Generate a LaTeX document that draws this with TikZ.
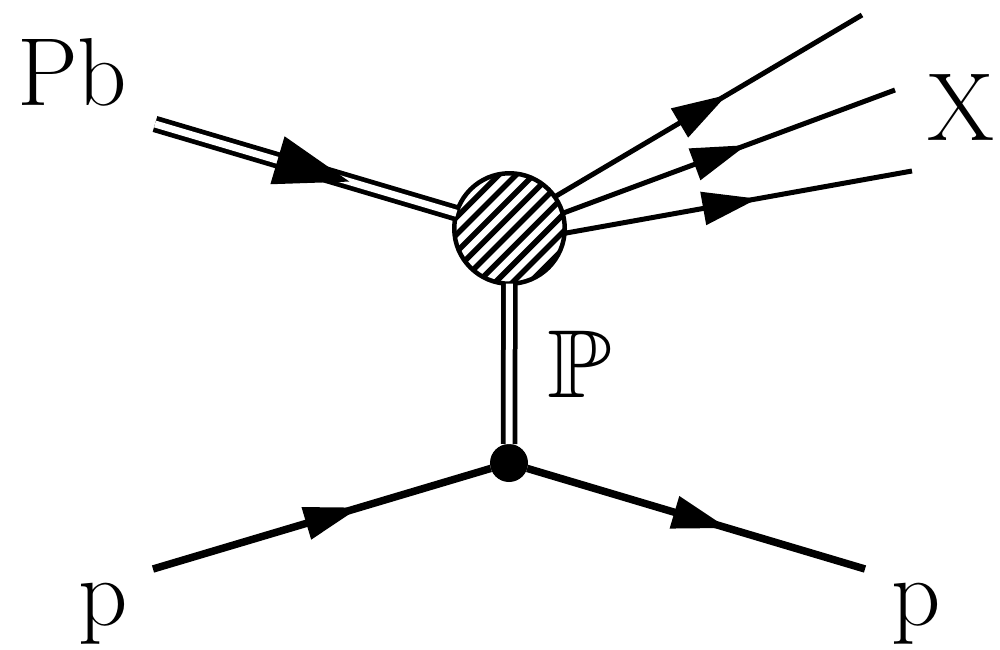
\documentclass[tikz,border=0pt]{standalone}
\usepackage{amssymb}
\usetikzlibrary{decorations.markings,calc}
\tikzset{
  lab/.style={anchor=base west,inner sep=0pt,outer sep=0pt,font=\fontsize{55}{66}\selectfont},
  thick line/.style={line width=0.15cm,black},
  thin line/.style={line width=0.1cm,black},
  dbl line/.style={line width=0.095cm,black,double=white,double distance=0.14cm},
  arrowat/.style={postaction={decorate,decoration={markings,mark=at position #1 with {\fill[black] (0,0)--(-55,17)--(-55,-17)--cycle;}}}},
  bigarrowat/.style={postaction={decorate,decoration={markings,mark=at position #1 with {\fill[black] (0,0)--(-75,25)--(-75,-25)--cycle;}}}},
  blobnode/.style={circle,draw=black,line width=0.09cm,fill=white,minimum size=2.21cm,inner sep=0pt,outer sep=0pt,
    path picture={\foreach \k in {-7,...,7}{\draw[black,line width=0.11cm] ($(path picture bounding box.center)+(\k*17.3+5-70,70)$) -- ++(140,-140);}}},
  vertexnode/.style={circle,fill=black,minimum size=0.76cm,inner sep=0pt,outer sep=0pt},
}
\begin{document}
\begin{tikzpicture}[x=0.02cm,y=-0.02cm]
\useasboundingbox (0,0) rectangle (1000,649);
\coordinate (pbin) at (155,124);
\coordinate (x1) at (862,15);
\coordinate (x2) at (895,90);
\coordinate (x3) at (912,171);
\coordinate (pin) at (153,569);
\coordinate (pout) at (865,569);
\node[blobnode] (blob) at (509.5,228.5) {};
\node[vertexnode] (vtx) at (509,463) {};
\draw[dbl line,bigarrowat=0.645] (pbin) -- (blob.164);
\draw[thin line,arrowat=0.56] (blob.35) -- (x1);
\draw[thin line,arrowat=0.552] (blob.16) -- (x2);
\draw[thin line,arrowat=0.555] (blob.-5) -- (x3);
\draw[dbl line] (blob) -- (vtx);
\draw[thick line,arrowat=0.61] (pin) -- (vtx);
\draw[thick line,arrowat=0.592] (vtx) -- (pout);
\node[lab] (pb) at (17,105) {Pb};
\node[lab] (xl) at (927,140) {X};
\node[lab] (p1) at (78,625) {p};
\node[lab] (p2) at (891,625) {p};
\node[anchor=base west,inner sep=0pt,xscale=6,yscale=5.5] (pom) at (545,397) {$\mathbb{P}$};
\end{tikzpicture}
\end{document}
